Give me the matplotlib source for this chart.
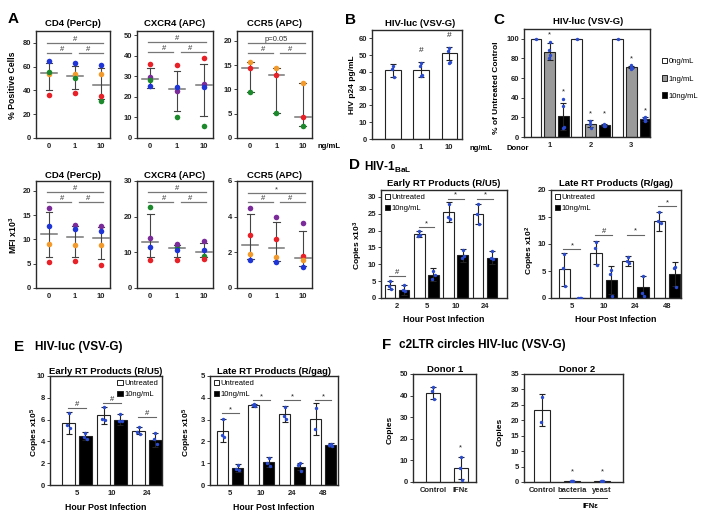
import matplotlib
matplotlib.use('Agg')
import matplotlib.pyplot as plt
from matplotlib.patches import Patch
import numpy as np

plt.rcParams['font.family'] = ['Liberation Sans', 'DejaVu Sans']
plt.rcParams['font.weight'] = 'bold'
plt.rcParams['mathtext.default'] = 'regular'

W, H = 702, 517
fig = plt.figure(figsize=(W / 100, H / 100), dpi=100)

BLUE = '#1f35d6'; ORANGE = '#f39a2c'; GREEN = '#1c8a2c'; RED = '#e82128'; PURPLE = '#7b2b9a'
DOT = '#2a4bd0'

# ---------------- Panel A data ----------------
a_doses = ['0', '1', '10']
# % positive cells (rows = donors, columns = doses)
cd4_pct = [[64.7, 63.0, 61.5], [53.8, 53.8, 54.0], [55.5, 50.5, 31.5], [36.1, 38.2, 35.0]]
cd4_pct_cols = [BLUE, ORANGE, GREEN, RED]
cd4_pct_center = [54.8, 52.0, 44.5]
cd4_pct_low = [40.0, 41.0, 32.5]
cd4_pct_high = [63.0, 60.5, 59.0]

cxcr4_pct = [[35.9, 35.4, 39.0], [29.5, 23.0, 26.0], [28.0, 10.0, 6.0], [25.5, 24.7, 25.0]]
cxcr4_pct_cols = [RED, PURPLE, GREEN, BLUE]
cxcr4_pct_center = [28.7, 23.8, 25.6]
cxcr4_pct_low = [24.5, 13.0, 10.9]
cxcr4_pct_high = [34.0, 32.8, 35.9]

ccr5_pct = [[15.6, 14.3, 11.4], [14.4, 12.9, 4.4], [9.4, 5.2, 2.5]]
ccr5_pct_cols = [ORANGE, RED, GREEN]
ccr5_pct_center = [14.4, 12.9, 4.4]
ccr5_pct_low = [9.4, 5.2, 2.5]
ccr5_pct_high = [15.6, 14.4, 11.4]

# MFI x10^3
cd4_mfi = [[16.5, 12.9, 12.7], [12.8, 12.2, 11.7], [9.1, 8.8, 8.8], [5.4, 5.5, 4.8]]
cd4_mfi_cols = [PURPLE, BLUE, ORANGE, RED]
cd4_mfi_center = [11.0, 10.5, 10.2]
cd4_mfi_low = [6.3, 6.3, 5.9]
cd4_mfi_high = [15.6, 12.8, 12.5]

cxcr4_mfi = [[22.7, 11.5, 9.0], [14.0, 12.3, 13.2], [11.5, 10.6, 10.6], [7.9, 7.9, 8.2]]
cxcr4_mfi_cols = [GREEN, PURPLE, BLUE, RED]
cxcr4_mfi_center = [12.9, 11.2, 10.1]
cxcr4_mfi_low = [8.7, 8.6, 8.6]
cxcr4_mfi_high = [20.7, 12.0, 12.6]

ccr5_mfi = [[4.5, 4.0, 3.65], [2.95, 2.75, 1.78], [1.9, 1.75, 1.57], [1.55, 1.45, 1.15]]
ccr5_mfi_cols = [PURPLE, RED, ORANGE, BLUE]
ccr5_mfi_center = [2.43, 2.25, 1.7]
ccr5_mfi_low = [1.65, 1.5, 1.25]
ccr5_mfi_high = [4.15, 3.7, 3.2]

# significance: (from, to, height, label)
cd4_pct_sig = [(0, 2, 80, '#'), (0, 1, 71.5, '#'), (1, 2, 71.5, '#')]
cxcr4_pct_sig = [(0, 2, 46.6, '#'), (0, 1, 41.7, '#'), (1, 2, 41.7, '#')]
ccr5_pct_sig = [(0, 2, 19.6, 'p=0.05'), (0, 1, 17.5, '#'), (1, 2, 17.5, '#')]
cd4_mfi_sig = [(0, 2, 19.8, '#'), (0, 1, 17.7, '#'), (1, 2, 17.7, '#')]
cxcr4_mfi_sig = [(0, 2, 26.9, '#'), (0, 1, 24.1, '#'), (1, 2, 24.1, '#')]
ccr5_mfi_sig = [(0, 2, 5.3, '*'), (0, 1, 4.8, '#'), (1, 2, 4.8, '#')]

# ---------------- Panel B data ----------------
b_doses = ['0', '1', '10']
b_means = [41.0, 41.4, 51.0]
b_err = [3.9, 4.3, 3.8]
b_points = [[43.8, 42.0, 37.2], [45.6, 43.8, 38.4, 37.8], [54.0, 52.2, 46.2, 45.6]]
b_sig = ['', '#', '#']
b_sig_y = [0, 50.5, 59.5]

# ---------------- Panel C data ----------------
c_donors = ['1', '2', '3']
c_doses = ['0ng/mL', '1ng/mL', '10ng/mL']
c_means = [[100, 100, 100], [87, 13.5, 71], [21, 12, 18]]          # rows = doses
c_err = [[0, 0, 0], [9, 3.5, 1], [14, 1.2, 2]]
c_points = [[[100], [100], [100]],
            [[97, 89, 84, 80.6], [16.5, 13, 9.5], [73, 71.5, 70.5, 69.5]],
            [[38.7, 31.6, 10, 9.5], [13.5, 12.5, 11.5, 11], [20, 19, 17.5, 16.5]]]
c_sig = [['', '', ''], ['*', '*', '*'], ['*', '*', '*']]
c_sig_y = [[0, 0, 0], [100, 20, 76], [42, 20, 23]]

# ---------------- Panel D data ----------------
d_early_hours = ['2', '5', '10', '24']
d_early_unt = [3.8, 19.0, 25.5, 25.0]
d_early_unt_err = [1.2, 0.8, 3.0, 3.0]
d_early_unt_pts = [[5.0, 3.5, 2.8], [19.8, 18.5, 18.8], [28.0, 24.0, 23.5], [28.0, 25.0, 22.0]]
d_early_trt = [2.4, 6.9, 12.6, 12.0]
d_early_trt_err = [1.6, 2.0, 1.8, 2.0]
d_early_trt_pts = [[4.0, 2.5, 2.0], [8.0, 5.5, 6.8], [14.2, 12.0, 12.3], [13.8, 12.0, 11.5]]
d_early_sig = ['#', '*', '*', '*']
d_early_sig_y = [6.6, 21.0, 29.4, 29.4]

d_late_hours = ['5', '10', '24', '48']
d_late_unt = [5.3, 8.4, 6.8, 14.2]
d_late_unt_err = [3.0, 2.1, 0.9, 1.8]
d_late_unt_pts = [[8.2, 5.5, 2.3], [10.3, 9.2, 6.2], [7.6, 6.8, 6.4], [16.0, 14.3, 13.8]]
d_late_trt = [0.0, 3.3, 2.0, 4.4]
d_late_trt_err = [0.0, 2.6, 2.0, 2.2]
d_late_trt_pts = [[0, 0, 0], [5.1, 4.4, 0.4], [4.0, 1.0, 0.3], [5.7, 5.5, 2.0]]
d_late_sig = ['*', '#', '*', '*']
d_late_sig_y = [9.0, 11.7, 11.7, 17.0]

# ---------------- Panel E data ----------------
e_early_hours = ['5', '10', '24']
e_early_unt = [5.7, 6.4, 5.0]
e_early_unt_err = [1.0, 0.8, 0.35]
e_early_unt_pts = [[6.6, 5.5, 5.2], [7.2, 6.1, 6.0], [5.3, 4.9, 4.7]]
e_early_trt = [4.5, 6.0, 4.1]
e_early_trt_err = [0.4, 0.5, 0.65]
e_early_trt_pts = [[4.8, 4.4, 4.2], [6.5, 5.9, 5.9], [4.8, 4.2, 3.8]]
e_early_sig = ['#', '#', '#']
e_early_sig_y = [7.1, 7.5, 6.2]

e_late_hours = ['5', '10', '24', '48']
e_late_unt = [2.5, 3.65, 3.25, 3.02]
e_late_unt_err = [0.55, 0.05, 0.38, 0.72]
e_late_unt_pts = [[3.05, 2.3, 2.2], [3.7, 3.65, 3.62], [3.6, 3.15, 3.05], [3.55, 2.55]]
e_late_trt = [0.77, 1.05, 0.84, 1.83]
e_late_trt_err = [0.18, 0.23, 0.17, 0.1]
e_late_trt_pts = [[0.9, 0.75, 0.68], [1.25, 1.0, 0.85], [1.0, 0.9, 0.65], [1.9, 1.85, 1.8]]
e_late_sig = ['*', '*', '*', '*']
e_late_sig_y = [3.3, 3.9, 3.9, 3.9]

# ---------------- Panel F data ----------------
f1_cats = ['Control', 'IFNε']
f1_means = [41.2, 6.5]
f1_err = [2.8, 5.2]
f1_points = [[44, 42, 38.5], [11.8, 6.5, 1.0]]
f1_sig = ['', '*']
f1_sig_y = [0, 14.0]

f2_cats = ['Control', 'bacteria', 'yeast']
f2_means = [23.3, 0.3, 0.3]
f2_err = [5.3, 0, 0]
f2_points = [[27.5, 19.5], [0.3, 0.3, 0.3], [0.3, 0.3, 0.3]]
f2_sig = ['', '*', '*']
f2_sig_y = [0, 2.0, 2.0]


# ---------------- helpers ----------------
def pxax(l, t, r, b):
    return fig.add_axes([l / W, 1 - b / H, (r - l) / W, (b - t) / H])


def ftext(x, y, s, **kw):
    kw.setdefault('ha', 'center')
    kw.setdefault('va', 'center')
    return fig.text(x / W, 1 - y / H, s, **kw)


def setup(ax, xlim, ylim, yticks, xticks, xlabels):
    ax.set_xlim(xlim)
    ax.set_ylim(ylim)
    ax.set_yticks(yticks)
    ax.set_xticks(xticks)
    ax.set_xticklabels(xlabels)
    ax.tick_params(axis='y', length=2, width=0.6, pad=1.5, labelsize=5.5, colors='#222')
    ax.tick_params(axis='x', length=0, pad=3.5, labelsize=5.5, colors='#222')
    for s in ax.spines.values():
        s.set_linewidth(1.0)
        s.set_color('#2a2a2a')


JIT = [0.0, -0.06, 0.06, -0.03, 0.03]


def dotplot(ax, vals, cols, center, low, high, sigs, ylim, yticks):
    x = np.arange(3)
    setup(ax, (-0.5, 2.35), ylim, yticks, x, a_doses)
    for i in range(3):
        ax.plot([x[i] - 0.3, x[i] + 0.3], [center[i]] * 2, color='#777', lw=1.1, zorder=2)
        ax.plot([x[i], x[i]], [low[i], high[i]], color='#444', lw=0.8, zorder=2)
        for v in (low[i], high[i]):
            ax.plot([x[i] - 0.13, x[i] + 0.13], [v, v], color='#444', lw=0.8, zorder=2)
    for row, col in zip(vals, cols):
        ax.scatter(x, row, s=16, color=col, zorder=3, linewidths=0)
    for x0, x1, y, lab in sigs:
        a = x0 - 0.08 if x0 == 0 else x0 + 0.15
        b = x1 + 0.08 if x1 == 2 else x1 - 0.15
        ax.plot([a, b], [y, y], color='#777', lw=0.9, zorder=2)
        ax.text((x0 + x1) / 2, y, lab, ha='center', va='bottom', fontsize=5.5,
                fontweight='normal', color='#333')


def points(ax, xc, pts, s=6):
    for j, p in enumerate(pts):
        ax.scatter([xc + JIT[k % len(JIT)] * 0.6 for k in range(len(p))], p, s=s,
                   color=DOT, zorder=5, linewidths=0)


def grouped(ax, cats, unt, unt_err, unt_pts, trt, trt_err, trt_pts, sigs, sig_y,
            xlim, ylim, yticks, legend_loc):
    x = np.arange(len(cats))
    off, w = 0.24, 0.36
    setup(ax, xlim, ylim, yticks, x, cats)
    ax.bar(x - off, unt, w, color='white', edgecolor='#222', lw=0.8, zorder=2)
    ax.bar(x + off, trt, w, color='black', edgecolor='#222', lw=0.8, zorder=2)
    ax.errorbar(x - off, unt, yerr=unt_err, fmt='none', ecolor='#222', elinewidth=0.8,
                capsize=2, capthick=0.8, zorder=3)
    ax.errorbar(x + off, trt, yerr=trt_err, fmt='none', ecolor='#222', elinewidth=0.8,
                capsize=2, capthick=0.8, zorder=3)
    for i in range(len(cats)):
        points(ax, x[i] - off, [unt_pts[i]])
        points(ax, x[i] + off, [trt_pts[i]])
        ax.plot([x[i] - 0.27, x[i] + 0.27], [sig_y[i]] * 2, color='#666', lw=0.8, zorder=2)
        ax.text(x[i], sig_y[i], sigs[i], ha='center', va='bottom',
                fontsize=5.5, fontweight='normal', color='#222')
    handles = [Patch(facecolor='white', edgecolor='#222', lw=0.7),
               Patch(facecolor='black', edgecolor='#222', lw=0.7)]
    ax.legend(handles, ['Untreated', '10ng/mL'], loc=legend_loc, frameon=False,
              prop={'size': 5.5, 'weight': 'normal'}, handlelength=0.7, handleheight=0.7,
              handletextpad=0.2, labelspacing=0.45, borderaxespad=0.3, borderpad=0.2)


def simplebars(ax, cats, means, err, pts, sigs, sig_y, xlim, ylim, yticks, w):
    x = np.arange(len(cats))
    setup(ax, xlim, ylim, yticks, x, cats)
    ax.bar(x, means, w, color='white', edgecolor='#222', lw=0.8, zorder=2)
    ax.errorbar(x, means, yerr=err, fmt='none', ecolor='#222', elinewidth=0.8,
                capsize=2.5, capthick=0.8, zorder=3)
    for i in range(len(cats)):
        points(ax, x[i], [pts[i]])
        if sigs[i]:
            ax.text(x[i], sig_y[i], sigs[i], ha='center', va='bottom',
                    fontsize=6 if sigs[i] == '#' else 5.5, fontweight='normal', color='#222')


# ---------------- Panel A ----------------
ftext(8, 19, 'A', fontsize=11, ha='left')
specs_top = [
    ((36, 110), 'CD4 (PerCp)', cd4_pct, cd4_pct_cols, cd4_pct_center, cd4_pct_low, cd4_pct_high,
     cd4_pct_sig, (0, 90), [0, 20, 40, 60, 80]),
    ((137, 213), 'CXCR4 (APC)', cxcr4_pct, cxcr4_pct_cols, cxcr4_pct_center, cxcr4_pct_low,
     cxcr4_pct_high, cxcr4_pct_sig, (0, 52), [0, 10, 20, 30, 40, 50]),
    ((237, 312), 'CCR5 (APC)', ccr5_pct, ccr5_pct_cols, ccr5_pct_center, ccr5_pct_low,
     ccr5_pct_high, ccr5_pct_sig, (0, 22), [0, 5, 10, 15, 20]),
]
specs_bot = [
    ((36, 110), 'CD4 (PerCp)', cd4_mfi, cd4_mfi_cols, cd4_mfi_center, cd4_mfi_low, cd4_mfi_high,
     cd4_mfi_sig, (0, 22), [0, 5, 10, 15, 20]),
    ((137, 213), 'CXCR4 (APC)', cxcr4_mfi, cxcr4_mfi_cols, cxcr4_mfi_center, cxcr4_mfi_low,
     cxcr4_mfi_high, cxcr4_mfi_sig, (0, 30), [0, 10, 20, 30]),
    ((237, 312), 'CCR5 (APC)', ccr5_mfi, ccr5_mfi_cols, ccr5_mfi_center, ccr5_mfi_low,
     ccr5_mfi_high, ccr5_mfi_sig, (0, 6), [0, 2, 4, 6]),
]
for (t, b, ty), specs in (((31, 138, 24), specs_top), ((181, 288, 175), specs_bot)):
    for (l, r), title, vals, cols, cen, lo, hi, sg, yl, yt in specs:
        ax = pxax(l, t, r, b)
        dotplot(ax, vals, cols, cen, lo, hi, sg, yl, yt)
        ftext((l + r) / 2, ty, title, fontsize=6.8)
ftext(13, 85, '% Positive Cells', rotation=90, fontsize=6.3)
ftext(13, 235, r'MFI x10$^{3}$', rotation=90, fontsize=6.3)
ftext(318, 146, 'ng/mL', ha='left', fontsize=5.5)

# ---------------- Panel B ----------------
ftext(345, 20, 'B', fontsize=11, ha='left')
axb = pxax(372, 30, 462, 139)
simplebars(axb, b_doses, b_means, b_err, b_points, b_sig, b_sig_y, (-0.75, 2.46), (0, 65),
           [0, 10, 20, 30, 40, 50, 60], 0.54)
ftext(420, 23, 'HIV-luc (VSV-G)', fontsize=6.8)
ftext(352, 85, 'HIV p24 pg/mL', rotation=90, fontsize=6)
ftext(470, 148, 'ng/mL', ha='left', fontsize=5.5)

# ---------------- Panel C ----------------
ftext(493, 20, 'C', fontsize=11, ha='left')
axc = pxax(524, 29, 650, 137)
ng = len(c_donors)
setup(axc, (-0.88, 8.37), (0, 110), [0, 20, 40, 60, 80, 100],
      [g * 3 + 1 for g in range(ng)], c_donors)
c_colors = ['white', '#9a9a9a', 'black']
for d in range(len(c_doses)):
    xs = np.array([g * 3 + d for g in range(ng)])
    axc.bar(xs, c_means[d], 0.8, color=c_colors[d], edgecolor='#222', lw=0.8, zorder=2)
    axc.errorbar(xs, c_means[d], yerr=c_err[d], fmt='none', ecolor='#222', elinewidth=0.8,
                 capsize=2, capthick=0.8, zorder=3)
    for g in range(ng):
        points(axc, xs[g], [c_points[d][g]], s=6)
        if c_sig[d][g]:
            axc.text(xs[g], c_sig_y[d][g], c_sig[d][g], ha='center', va='bottom',
                     fontsize=5.5, fontweight='normal', color='#222')
ftext(588, 22, 'HIV-luc (VSV-G)', fontsize=6.8)
ftext(497, 88, '% of Untreated Control', rotation=90, fontsize=6)
ftext(518, 148, 'Donor', fontsize=5.5)
c_handles = [Patch(facecolor=c, edgecolor='#222', lw=0.7) for c in c_colors]
fig.legend(c_handles, c_doses, loc='upper left', bbox_to_anchor=(655 / W, 1 - 51 / H),
           frameon=False, prop={'size': 5.5, 'weight': 'normal'}, handlelength=0.7,
           handleheight=0.7, handletextpad=0.2, labelspacing=1.3)

# ---------------- Panel D ----------------
ftext(349, 165, 'D', fontsize=11, ha='left')
ftext(364, 167, r'HIV-1$_{\mathregular{BaL}}$', fontsize=8.5, ha='left')
axd1 = pxax(381, 190, 507, 298)
grouped(axd1, d_early_hours, d_early_unt, d_early_unt_err, d_early_unt_pts, d_early_trt,
        d_early_trt_err, d_early_trt_pts, d_early_sig, d_early_sig_y, (-0.55, 3.75), (0, 32),
        [0, 5, 10, 15, 20, 25, 30], 'upper left')
ftext(444, 183, 'Early RT Products (R/U5)', fontsize=6.8)
ftext(358, 245, r'Copies x10$^{3}$', rotation=90, fontsize=6)
ftext(444, 319, 'Hour Post Infection', fontsize=6.3)

axd2 = pxax(551, 190, 681, 298)
grouped(axd2, d_late_hours, d_late_unt, d_late_unt_err, d_late_unt_pts, d_late_trt,
        d_late_trt_err, d_late_trt_pts, d_late_sig, d_late_sig_y, (-0.66, 3.44), (0, 20),
        [0, 5, 10, 15, 20], 'upper left')
ftext(616, 183, 'Late RT Products (R/gag)', fontsize=6.8)
ftext(530, 250, r'Copies x10$^{2}$', rotation=90, fontsize=6)
ftext(616, 319, 'Hour Post Infection', fontsize=6.3)

# ---------------- Panel E ----------------
ftext(14, 347, 'E', fontsize=11, ha='left')
ftext(35, 347, 'HIV-luc (VSV-G)', fontsize=8.5, ha='left')
axe1 = pxax(50, 376, 162, 485)
grouped(axe1, e_early_hours, e_early_unt, e_early_unt_err, e_early_unt_pts, e_early_trt,
        e_early_trt_err, e_early_trt_pts, e_early_sig, e_early_sig_y, (-0.77, 2.43), (0, 10),
        [0, 2, 4, 6, 8, 10], 'upper right')
ftext(106, 371, 'Early RT Products (R/U5)', fontsize=6.8)
ftext(35, 432, r'Copies x10$^{5}$', rotation=90, fontsize=6)
ftext(106, 507, 'Hour Post Infection', fontsize=6.3)

axe2 = pxax(210, 376, 338, 485)
grouped(axe2, e_late_hours, e_late_unt, e_late_unt_err, e_late_unt_pts, e_late_trt,
        e_late_trt_err, e_late_trt_pts, e_late_sig, e_late_sig_y, (-0.65, 3.48), (0, 5),
        [0, 1, 2, 3, 4, 5], 'upper left')
ftext(274, 371, 'Late RT Products (R/gag)', fontsize=6.8)
ftext(187, 432, r'Copies x10$^{5}$', rotation=90, fontsize=6)
ftext(274, 507, 'Hour Post Infection', fontsize=6.3)

# ---------------- Panel F ----------------
ftext(382, 345, 'F', fontsize=11, ha='left')
ftext(399, 345, 'c2LTR circles HIV-luc (VSV-G)', fontsize=8.5, ha='left')
axf1 = pxax(413, 374, 476, 482)
simplebars(axf1, f1_cats, f1_means, f1_err, f1_points, f1_sig, f1_sig_y, (-0.71, 1.54),
           (0, 50), [0, 10, 20, 30, 40, 50], 0.5)
ftext(445, 369, 'Donor 1', fontsize=6.8)
ftext(390, 430, 'Copies', rotation=90, fontsize=6)

axf2 = pxax(524, 374, 623, 482)
simplebars(axf2, f2_cats, f2_means, f2_err, f2_points, f2_sig, f2_sig_y, (-0.6, 2.7),
           (0, 35), [0, 5, 10, 15, 20, 25, 30, 35], 0.53)
ftext(577, 369, 'Donor 2', fontsize=6.8)
ftext(500, 432, 'Copies', rotation=90, fontsize=6)
tr = axf2.get_xaxis_transform()
axf2.plot([0.55, 2.15], [-0.148, -0.148], transform=tr, color='#333', lw=0.7, clip_on=False)
ftext(590, 507, 'IFNε', fontsize=5.5)

fig.savefig('out.png', dpi=100)
